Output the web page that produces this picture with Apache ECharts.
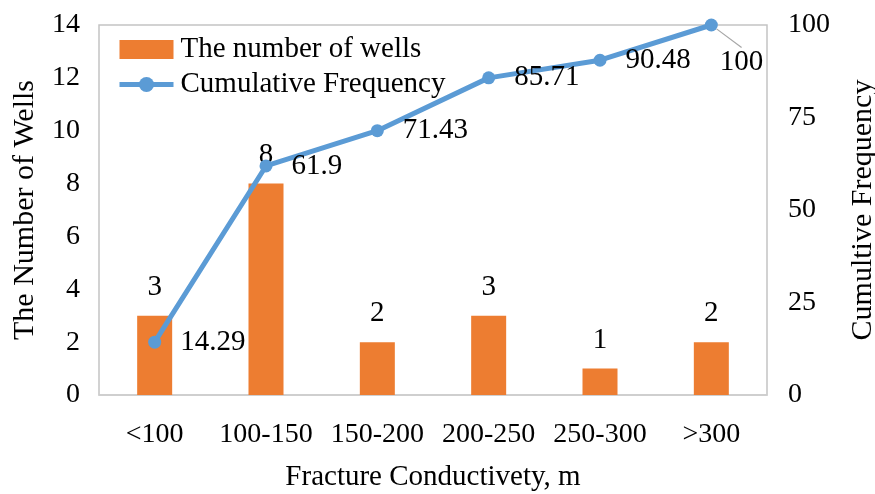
<!DOCTYPE html>
<html>
<head>
<meta charset="utf-8">
<script src="https://cdn.jsdelivr.net/npm/echarts@6/dist/echarts.min.js"></script>
<style>
  html, body { margin: 0; padding: 0; background: #fff; }
  #chart { width: 875px; height: 494px; }
</style>
</head>
<body>
<div id="chart"></div>
<script>
// Conductivity classes and well counts
const categories = ['<100', '100-150', '150-200', '200-250', '250-300', '>300'];
const wellCounts = [3, 8, 2, 3, 1, 2];
const cumulativeFreq = [14.29, 61.9, 71.43, 85.71, 90.48, 100];
const leftTicks = { min: 0, max: 14, interval: 2 };
const rightTicks = { min: 0, max: 100, interval: 25 };

const FONT = 'Liberation Serif';
const txt = { fontFamily: FONT, fontSize: 29, color: '#000' };
const tickTxt = { fontFamily: FONT, fontSize: 28, color: '#000' };
const nameTxt = { fontFamily: FONT, fontSize: 30, color: '#000' };

const lastIdx = cumulativeFreq.length - 1;
// The final point's label sits below-right with a leader line
const cumulativeData = cumulativeFreq.map(function (v, i) {
  return i === lastIdx
    ? { value: v, labelLine: { show: true, lineStyle: { color: '#A6A6A6', width: 1.2 } } }
    : v;
});

const chart = echarts.init(document.getElementById('chart'), null, { renderer: 'canvas' });

chart.setOption({
  animation: false,
  textStyle: { fontFamily: FONT },
  grid: {
    left: 99, right: 108, top: 25, bottom: 99,
    containLabel: false,
    outerBoundsMode: 'none',
    show: true, borderColor: '#C4C4C4', borderWidth: 1.5
  },
  legend: {
    orient: 'vertical',
    left: 112, top: 30,
    itemWidth: 54, itemHeight: 19, itemGap: 6,
    textStyle: Object.assign({}, txt, { padding: [0, 0, 0, 2] }),
    data: [
      { name: 'The number of wells', icon: 'rect' },
      {
        name: 'Cumulative Frequency',
        lineStyle: { width: 5, color: '#5B9BD5' },
        itemStyle: { color: '#5B9BD5' }
      }
    ]
  },
  xAxis: {
    type: 'category',
    data: categories,
    name: 'Fracture Conductivety, m',
    nameLocation: 'middle',
    nameGap: 68,
    nameMoveOverlap: false,
    nameTextStyle: txt,
    axisLine: { show: true, lineStyle: { color: '#D0D0D0', width: 1.5 } },
    axisTick: { show: false },
    axisLabel: Object.assign({}, tickTxt, { margin: 26, interval: 0 })
  },
  yAxis: [
    {
      type: 'value',
      min: leftTicks.min, max: leftTicks.max, interval: leftTicks.interval,
      name: 'The Number of Wells',
      nameLocation: 'middle',
      nameRotate: 90,
      nameGap: 59,
      nameMoveOverlap: false,
      nameTextStyle: nameTxt,
      axisLine: { show: false },
      axisTick: { show: false },
      splitLine: { show: false },
      axisLabel: Object.assign({}, tickTxt, { margin: 19 })
    },
    {
      type: 'value',
      min: rightTicks.min, max: rightTicks.max, interval: rightTicks.interval,
      name: 'Cumultive Frequency',
      nameLocation: 'middle',
      nameRotate: 90,
      nameGap: 81,
      nameMoveOverlap: false,
      nameTextStyle: nameTxt,
      axisLine: { show: false },
      axisTick: { show: false },
      splitLine: { show: false },
      axisLabel: Object.assign({}, tickTxt, { margin: 21 })
    }
  ],
  series: [
    {
      name: 'The number of wells',
      type: 'bar',
      yAxisIndex: 0,
      data: wellCounts,
      barWidth: 35,
      itemStyle: { color: '#ED7D31' },
      label: Object.assign({ show: true, position: 'top', distance: 14 }, txt)
    },
    {
      name: 'Cumulative Frequency',
      type: 'line',
      yAxisIndex: 1,
      data: cumulativeData,
      symbol: 'circle',
      symbolSize: 13,
      lineStyle: { color: '#5B9BD5', width: 5 },
      itemStyle: { color: '#5B9BD5' },
      label: Object.assign({ show: true, position: 'right', distance: 19 }, txt),
      labelLayout: function (p) {
        return p.dataIndex === lastIdx ? { dx: -17, dy: 37 } : {};
      },
      labelLine: { show: false },
      z: 5
    }
  ]
});
</script>
</body>
</html>
